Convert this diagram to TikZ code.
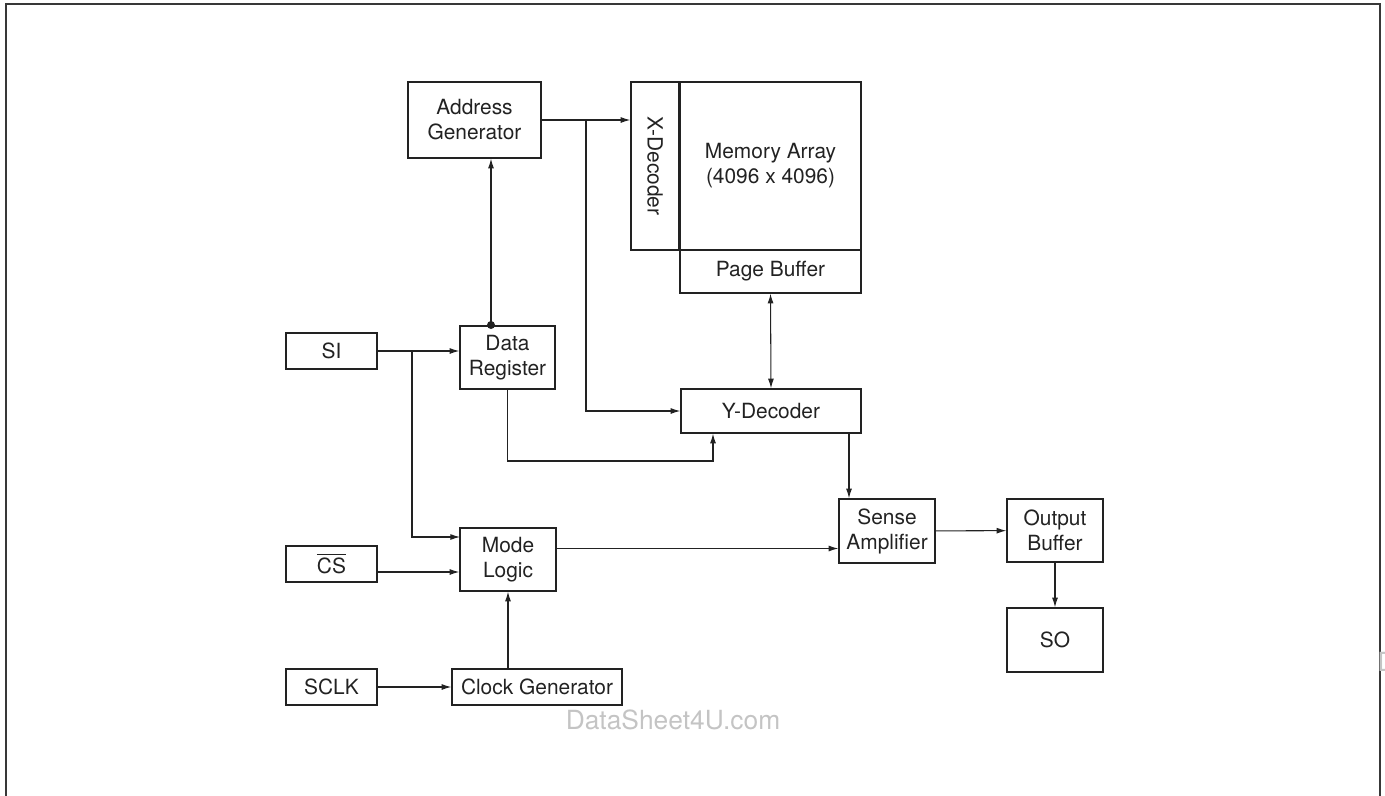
\documentclass[tikz,border=0pt]{standalone}
\usepackage{fontspec}
\setmainfont{TeX Gyre Heros}
\usetikzlibrary{arrows.meta,calc}
\definecolor{ink}{HTML}{222222}
\definecolor{wm}{HTML}{C4C4C4}
\newcommand\myovl[1]{\setbox0\hbox{#1}\rlap{\rule[\dimexpr\ht0+1.6pt\relax]{\wd0}{0.55pt}}\box0}
\newcommand\blk[6]{\node[box, minimum width={(#4-#2)*0.02cm}, minimum height={(#5-#3)*0.02cm}]
  (#1) at ({(#2+#4)/2},{(#3+#5)/2}) {#6};}
\tikzset{
  box/.style={draw=ink, line width=0.8pt, inner sep=0pt, align=center, text=ink,
              font=\fontsize{11.9}{14.2}\selectfont},
  lbl/.style={inner sep=0pt, align=center, text=ink, font=\fontsize{11.9}{14.2}\selectfont},
  arr/.style={draw=ink, line width=0.6pt, -{Latex[length=5.5pt,width=3.4pt]}},
  arrtwo/.style={draw=ink, line width=0.6pt, {Latex[length=5.5pt,width=3.4pt]}-{Latex[length=5.5pt,width=3.4pt]}},
  wmark/.style={inner sep=0pt, text=wm, font=\fontsize{15}{18}\selectfont}
}
\begin{document}
\begin{tikzpicture}[x=0.02cm, y=-0.02cm]
\useasboundingbox (0,0) rectangle (1385,795);
% outer frame
\draw[draw=ink!90, line width=1.2pt] (6,820) -- (6,4) -- (1380,4) -- (1380,820);

% boxes
\blk{ag}{408}{82}{541}{158}{Address\\Generator}
\blk{xd}{631}{82}{679}{250}{}
\node[lbl, rotate=-90] (xdt) at (xd.center) {X-Decoder};
\blk{ma}{680}{82}{861}{250}{Memory Array\\(4096 x 4096)}
\draw[draw=ink, line width=1.3pt] (ma.north west) -- (ma.south west);
\blk{pb}{680}{250}{861}{293}{Page Buffer}
\blk{dr}{460}{326}{555}{389}{Data\\Register}
\blk{si}{286}{333}{377}{369}{SI}
\blk{yd}{681}{389}{861}{433}{Y-Decoder}
\blk{sa}{839}{499}{935}{563}{Sense\\Amplifier}
\blk{ob}{1007}{499}{1103}{562}{Output\\Buffer}
\blk{so}{1007}{608}{1103}{672}{SO}
\blk{ml}{460}{528}{556}{591}{Mode\\Logic}
\blk{cs}{286}{546}{377}{582}{\myovl{CS}}
\blk{cg}{452}{669}{622}{705}{Clock Generator}
\blk{sclk}{286}{669}{377}{705}{SCLK}

% connectors
\draw[arr] (ag.east) -- (ag.east -| xd.west);
\coordinate (br1) at (586,121);
\draw[arr] (br1) |- (yd.west);

\draw[arr] (si.east) -- (si.east -| dr.west);
\coordinate (br2) at (412,351);
\coordinate (mlin) at (460,537);
\draw[arr] (br2) |- (mlin);

\draw[arr] ($(cs.east)+(0,8)$) -- ($(cs.east -| ml.west)+(0,8)$);
\draw[arr] ($(ml.east)+(0,-11)$) -- ($(ml.east -| sa.west)+(0,-11)$);
\draw[arr] (cg.north -| ml.south) -- (ml.south);
\draw[arr] (sclk.east) -- (sclk.east -| cg.west);

\coordinate (dot) at (491,325);
\draw[arr] (dot) -- (dot |- ag.south);
\fill[ink] (dot) circle (4);

\coordinate (c1) at (713,461);
\draw[arr] (dr.south) |- (c1) -- (c1 |- yd.south);

\draw[arrtwo] (pb.south) -- (yd.north);

\coordinate (c2) at (849,433);
\draw[arr] (c2) -- (c2 |- sa.north);

\draw[arr] (sa) -- (ob);
\draw[arr] (ob) -- (so);

% watermark
\node[wmark] (wm1) at (673,720) {DataSheet4U.com};
\begin{scope}
\clip (0,0) rectangle (1385,795);
\node[wmark, anchor=west] (wm2) at (1377,662) {D};
\end{scope}
\end{tikzpicture}
\end{document}
